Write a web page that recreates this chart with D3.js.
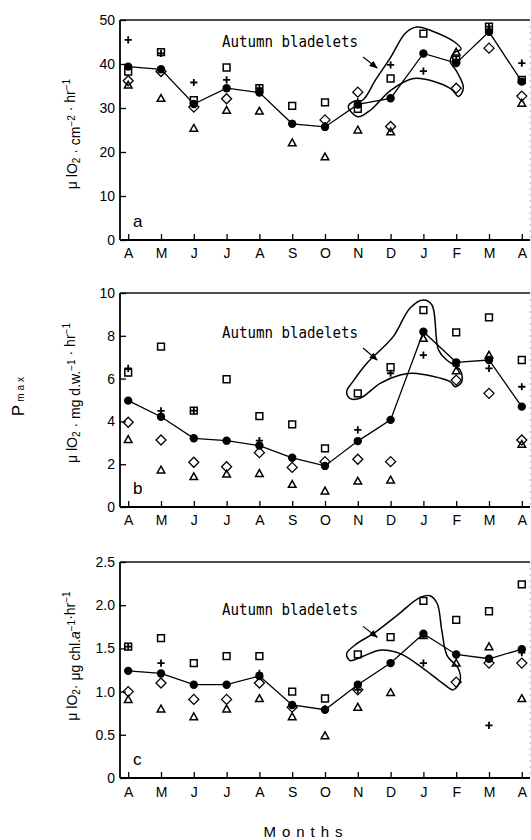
<!DOCTYPE html>
<html><head><meta charset="utf-8">
<script src="https://cdn.jsdelivr.net/npm/d3@7"></script>
<style>body{margin:0;background:#fff}</style>
</head><body><svg id="chart" width="531" height="840"></svg>
<script>
const months = ["A","M","J","J","A","S","O","N","D","J","F","M","A"];

// Panel a: μlO2 · cm-2 · hr-1   (null = marker not visible in the figure)
const aTicks = [0,10,20,30,40,50];
const aCircle   = [39.4,38.8,30.9,34.5,33.5,26.4,25.7,30.8,32.2,42.4,40.2,47.3,36.0];
const aSquare   = [38.3,42.7,31.8,39.2,34.5,30.5,31.3,29.8,36.7,46.9,41.0,48.5,36.4];
const aPlus     = [45.5,42.4,35.8,36.4,34.5,26.5,26.0,31.4,39.8,38.4,41.0,48.5,40.2];
const aDiamond  = [36.2,38.3,30.2,32.1,null,null,27.3,33.6,25.8,null,34.5,43.6,32.7];
const aTriangle = [35.2,32.2,25.4,29.5,29.3,22.1,18.9,25.0,24.6,null,42.7,null,31.1];
const aOutline  = [[6.71,30.3],[7.0,28.0],[7.4,29.6],[8.0,34.0],[8.7,36.7],[9.3,36.1],[9.85,34.3],[10.07,32.6],[10.22,34.6],[10.0,38.5],[9.82,40.5],[9.95,42.6],[10.15,43.4],[9.95,45.0],[9.3,47.4],[8.8,48.4],[8.45,47.0],[8.0,41.5],[7.55,36.5],[7.15,31.8],[6.9,31.6]];
const aArrow = [[7.16,41.6],[7.59,39.1]];
const aNote  = [2.86,43.9];

// Panel b: μlO2 · mg d.w.-1 · hr-1
const bTicks = [0,2,4,6,8,10];
const bCircle   = [4.97,4.22,3.21,3.10,2.87,2.30,1.92,3.08,4.07,8.19,6.76,6.87,4.69];
const bSquare   = [6.28,7.49,4.50,5.97,4.25,3.86,2.74,5.31,6.53,9.20,8.16,8.86,6.87];
const bPlus     = [6.48,4.49,4.50,3.10,3.10,2.30,1.92,3.60,6.25,7.10,6.60,6.48,5.62];
const bDiamond  = [3.96,3.13,2.09,1.88,2.54,1.85,2.12,2.23,2.12,null,5.93,5.31,3.13];
const bTriangle = [3.16,1.73,1.42,1.54,1.57,1.06,0.75,1.21,1.26,7.88,6.37,7.10,2.93];
const bOutline  = [[6.66,5.39],[6.85,5.86],[7.27,6.71],[8.08,7.96],[8.59,9.29],[9.0,9.67],[9.26,9.44],[9.46,7.34],[9.71,6.87],[10.12,6.40],[10.17,5.86],[9.97,5.62],[9.81,5.86],[8.69,6.25],[8.29,6.17],[7.68,5.78],[7.07,5.08],[6.76,5.08]];
const bArrow = [[7.16,7.43],[7.59,6.87]];
const bNote  = [2.86,7.9];

// Panel c: μlO2 · μg chl.a-1 · hr-1
const cTicks = [0,0.5,1.0,1.5,2.0,2.5];
const cCircle   = [1.24,1.21,1.08,1.08,1.18,0.845,0.79,1.08,1.33,1.67,1.43,1.38,1.49];
const cSquare   = [1.52,1.62,1.33,1.41,1.41,1.00,0.92,1.43,1.63,2.05,1.83,1.93,2.24];
const cPlus     = [1.52,1.33,1.08,1.08,1.21,0.85,0.80,1.02,1.33,1.33,1.43,0.61,1.45];
const cDiamond  = [1.00,1.10,0.91,0.91,1.10,0.82,null,1.02,null,null,1.11,1.33,1.33];
const cTriangle = [0.91,0.80,0.71,0.80,0.92,0.71,0.49,0.82,0.99,1.65,1.33,1.52,0.92];
const cOutline  = [[6.66,1.44],[6.97,1.555],[7.47,1.67],[8.19,1.88],[8.90,2.09],[9.20,2.11],[9.42,2.02],[9.56,1.71],[9.72,1.42],[10.06,1.27],[10.12,1.13],[9.91,1.02],[9.61,1.09],[8.99,1.27],[8.29,1.44],[7.68,1.48],[7.16,1.41],[6.76,1.36]];
const cArrow = [[7.16,1.755],[7.59,1.63]];
const cNote  = [2.86,1.89];

const noteText = "Autumn bladelets";

const svg = d3.select("#chart");
svg.append("rect").attr("width",531).attr("height",840).attr("fill","#fff");

const defs = svg.append("defs");
defs.append("marker").attr("id","arr").attr("viewBox","0 0 10 10").attr("refX",9).attr("refY",5)
  .attr("markerWidth",7).attr("markerHeight",7).attr("orient","auto")
  .append("path").attr("d","M0,1 L10,5 L0,9 Z").attr("fill","#000");

const FONT = "'Liberation Sans', Arial, sans-serif";
const X0 = 120, X1 = 530;

function markerPath(type){
  switch(type){
    case "square": return "M-3.4,-3.4H3.4V3.4H-3.4Z";
    case "diamond": return "M0,-5L5,0L0,5L-5,0Z";
    case "triangle": return "M0,-3.8L3.8,3.0L-3.8,3.0Z";
    case "plus": return "M-3.6,0H3.6M0,-3.6V3.6";
  }
}

const panels = [
  {top:20, bottom:240, max:50, ticks:aTicks, fmt:d=>String(d), letter:"a", circle:aCircle, square:aSquare, plus:aPlus, diamond:aDiamond, triangle:aTriangle, outline:aOutline, arrow:aArrow, note:aNote, titleY:134, pad:8,
    title:[["μ lO",0],["2",-1],[" · cm",0],["−2",1],["  · hr",0],["−1",1]]},
  {top:293, bottom:507, max:10, ticks:bTicks, fmt:d=>String(d), letter:"b", circle:bCircle, square:bSquare, plus:bPlus, diamond:bDiamond, triangle:bTriangle, outline:bOutline, arrow:bArrow, note:bNote, titleY:393, pad:8,
    title:[["μ lO",0],["2",-1],[" · mg d.w.",0],["−1",1],["  · hr",0],["−1",1]]},
  {top:562, bottom:778, max:2.5, ticks:cTicks, fmt:d=>d===0?"0":d.toFixed(1), letter:"c", circle:cCircle, square:cSquare, plus:cPlus, diamond:cDiamond, triangle:cTriangle, outline:cOutline, arrow:cArrow, note:cNote, titleY:656, pad:9,
    title:[["μ lO",0],["2",-1],["· μg chl.",0],["a",0,true],["−1",1],["·hr",0],["−1",1]]}
];

panels.forEach(p=>{
  const x = d3.scaleLinear().domain([-0.25,12.25]).range([X0,X1]);
  const y = d3.scaleLinear().domain([0,p.max]).range([p.bottom,p.top]);
  const g = svg.append("g");

  g.append("line").attr("x1",X0).attr("x2",X1).attr("y1",p.top).attr("y2",p.top).attr("stroke","#111").attr("stroke-width",1.3);
  g.append("line").attr("x1",X1).attr("x2",X1).attr("y1",p.top).attr("y2",p.bottom).attr("stroke","#bbb").attr("stroke-width",1).attr("stroke-dasharray","2,4");

  const xa = d3.axisBottom(x).tickValues(d3.range(13)).tickFormat(i=>months[i]).tickSizeInner(-6).tickSizeOuter(0).tickPadding(p.pad);
  const gx = g.append("g").attr("transform",`translate(0,${p.bottom})`).call(xa);
  const ya = d3.axisLeft(y).tickValues(p.ticks).tickFormat(p.fmt).tickSizeInner(-6).tickSizeOuter(0).tickPadding(5);
  const gy = g.append("g").attr("transform",`translate(${X0},0)`).call(ya);
  [gx,gy].forEach(a=>{
    a.select(".domain").attr("stroke","#000").attr("stroke-width",1.8);
    a.selectAll(".tick line").attr("stroke","#000").attr("stroke-width",1.3);
    a.selectAll("text").attr("font-family",FONT).attr("font-size",14).attr("fill","#000");
  });
  gx.select(".domain").attr("d",`M${X0},0H${X1}`);
  gy.select(".domain").attr("d",`M0,${p.bottom}V${p.top}`);

  g.append("text").attr("x",X0+13).attr("y",p.bottom-13).attr("font-family",FONT).attr("font-size",17).text(p.letter);

  g.append("path").datum(p.outline)
    .attr("d",d3.line().x(d=>x(d[0])).y(d=>y(d[1])).curve(d3.curveCatmullRomClosed.alpha(0.5)))
    .attr("fill","none").attr("stroke","#000").attr("stroke-width",1.5);

  g.append("text").attr("x",x(p.note[0])).attr("y",y(p.note[1]))
    .attr("font-family","'DejaVu Sans Mono', monospace").attr("font-size",16)
    .attr("textLength",136).attr("lengthAdjust","spacingAndGlyphs").text(noteText);
  g.append("line").attr("x1",x(p.arrow[0][0])).attr("y1",y(p.arrow[0][1]))
    .attr("x2",x(p.arrow[1][0])).attr("y2",y(p.arrow[1][1]))
    .attr("stroke","#000").attr("stroke-width",1.2).attr("marker-end","url(#arr)");

  g.append("path").datum(p.circle)
    .attr("d",d3.line().x((d,i)=>x(i)).y(d=>y(d)))
    .attr("fill","none").attr("stroke","#000").attr("stroke-width",1.3);

  [["square",p.square,1.5],["plus",p.plus,1.8],["diamond",p.diamond,1.3],["triangle",p.triangle,1.5]].forEach(([t,arr,sw])=>{
    const pts = arr.map((v,i)=>({i,v})).filter(d=>d.v!==null);
    g.append("g").selectAll("path").data(pts).join("path")
      .attr("transform",d=>`translate(${x(d.i)},${y(d.v)})`)
      .attr("d",markerPath(t)).attr("fill","none").attr("stroke","#000").attr("stroke-width",sw);
  });
  g.append("g").selectAll("circle").data(p.circle).join("circle")
    .attr("cx",(d,i)=>x(i)).attr("cy",d=>y(d)).attr("r",4.2).attr("fill","#000");

  const t = svg.append("text").attr("transform",`translate(77,${p.titleY}) rotate(-90)`)
    .attr("text-anchor","middle").attr("font-family",FONT).attr("font-size",14);
  p.title.forEach(([s,k,it])=>{
    const ts = t.append("tspan").text(s);
    if(k===1) ts.attr("font-size",10).attr("dy",-5);
    if(k===-1) ts.attr("font-size",10).attr("dy",3);
    if(it) ts.attr("font-style","italic");
    if(k!==0){ t.append("tspan").attr("dy", k===1?5:-3).text(""); }
  });
});

const pm = svg.append("text").attr("transform","translate(24,395) rotate(-90)")
  .attr("text-anchor","middle").attr("font-family",FONT);
pm.append("tspan").attr("font-size",17).text("P");
pm.append("tspan").attr("font-size",10).attr("dx",3).attr("letter-spacing",3).text("max");

svg.append("text").attr("x",306).attr("y",837).attr("text-anchor","middle")
  .attr("font-family",FONT).attr("font-size",15).attr("letter-spacing",6).text("Months");
</script></body></html>
